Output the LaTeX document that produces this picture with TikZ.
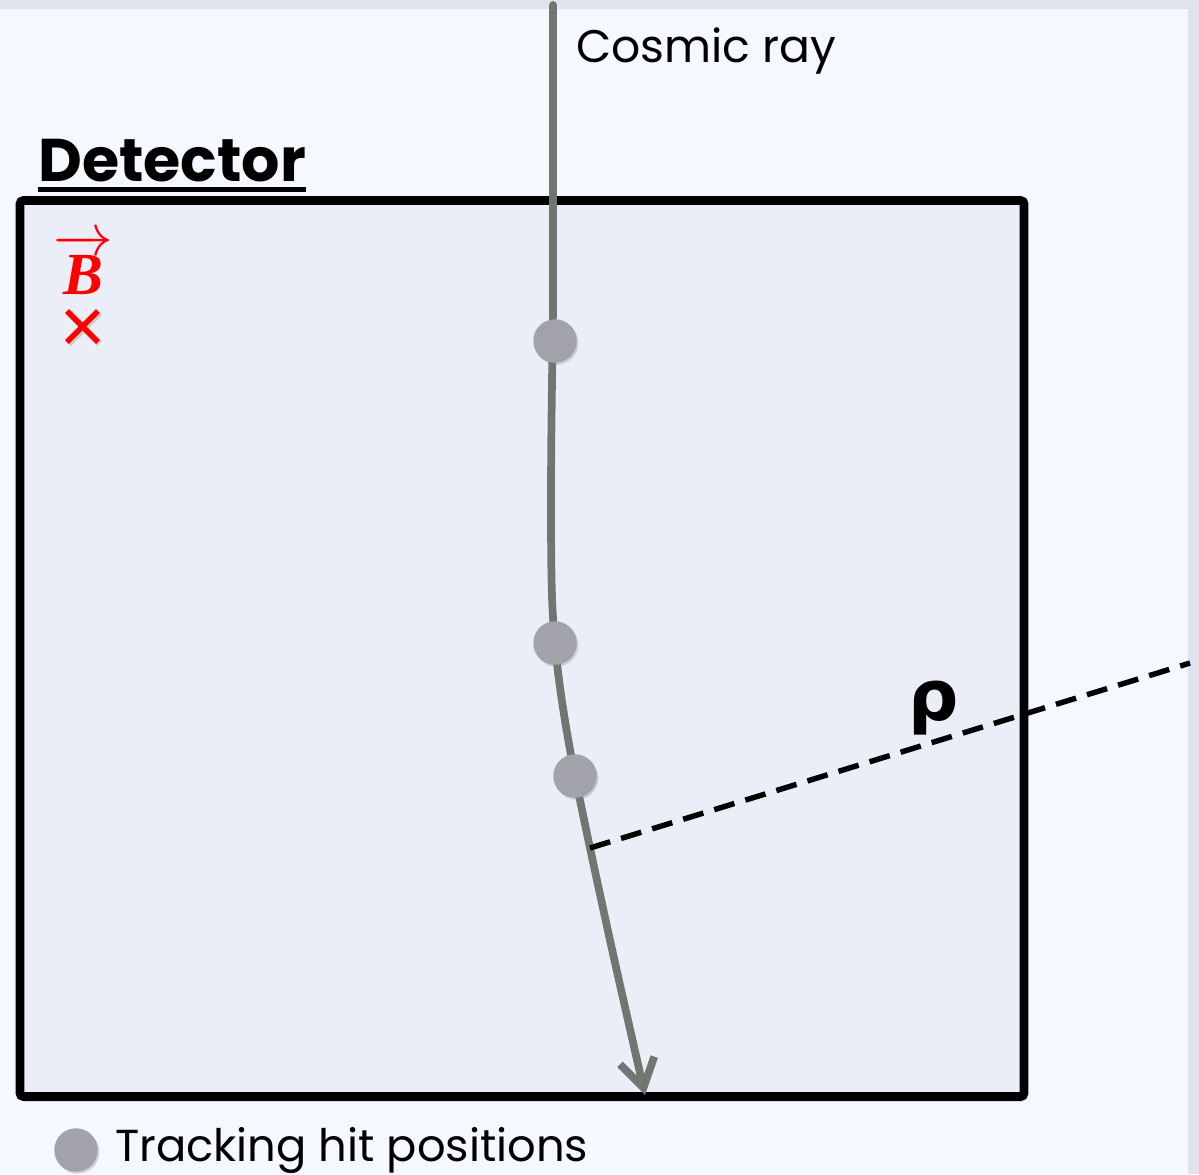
\RequirePackage{fix-cm}
\documentclass[tikz,border=0pt]{standalone}
\usepackage{fontspec}
\usepackage{amsmath,amssymb,bm}
\usepackage{xcolor}
\usetikzlibrary{positioning,arrows.meta,shadows}
\newfontfamily\rhofont{DejaVu Sans}
\newfontfamily\gothic{Poppins}
\newfontfamily\serifbi{Liberation Serif}
\definecolor{pagegray}{HTML}{E1E3EC}
\definecolor{slidebg}{HTML}{F5F8FE}
\definecolor{detfill}{HTML}{EBEEF7}
\definecolor{trackgray}{HTML}{6F7770}
\definecolor{hitgray}{HTML}{A2A2AA}

\begin{document}
\begin{tikzpicture}[x=0.02cm, y=-0.02cm,
    track/.style={draw=trackgray, line width=4.4pt, line cap=round},
    hit/.style={circle, fill=hitgray, inner sep=0pt, minimum size=0.87cm,
      drop shadow={shadow xshift=0.9pt, shadow yshift=-1.1pt, opacity=0.3}},
    lbl/.style={inner sep=0pt, font=\gothic\fontsize{26}{28}\selectfont}]
    % slide background
    \fill[pagegray] (0,0) rectangle (1199,1174);
    \fill[slidebg] (0,9) rectangle (1188,1174);
    \useasboundingbox (0,0) rectangle (1199,1174);
    % detector volume
    \draw[line width=5pt, rounded corners=2pt, fill=detfill,
      drop shadow={shadow xshift=1pt, shadow yshift=-3pt, opacity=0.25}] (20,200.5) rectangle (1024,1096.5);
    \node (dettitle) [anchor=base west, inner sep=0pt, font=\gothic\bfseries\fontsize{34.3}{38}\selectfont] at (38,181) {Detector};
    \draw[line width=2.8pt] ([yshift=-5pt]dettitle.base west) -- ([yshift=-5pt]dettitle.base east);
    % field into the page
    \node (bvec) [inner sep=0pt, text=red, font=\fontsize{34}{36}\selectfont] at (83,264) {$\overrightarrow{\text{\serifbi\bfseries\itshape B}}$};
    \draw[black!20, line width=4pt, xshift=0.9pt, yshift=-0.9pt] (67,311) -- (98,342) (67,342) -- (98,311);
    \draw[red, line width=3.2pt] (67,311) -- (98,342) (67,342) -- (98,311);
    % track and hits
    \coordinate (h1) at (555,341);
    \coordinate (h2) at (555,643);
    \coordinate (h3) at (575,776);
    \coordinate (foot) at (590,848);
    \coordinate (rhoend) at (1190,663);
    \coordinate (top) at (553,5);
    \coordinate (tip) at (645,1095);
    \node (cr) [lbl, anchor=base west] at (576,62) {Cosmic ray};
    \draw[track, -{Straight Barb[length=16pt,width=20pt]}] (top) -- (553,300) .. controls (553,330) and (551,420) .. (551,500)
      .. controls (551,590) and (552,610) .. (h2) .. controls (559,690) and (568,740) .. (h3)
      .. controls (582,810) .. (foot) .. controls (612,950) .. (tip);
    \draw[line width=3.1pt, dash pattern=on 12pt off 6.5pt] (foot) -- (rhoend);
    \node (rho) [inner sep=0pt, font=\rhofont\bfseries\fontsize{40}{42}\selectfont] at (934,708) {ρ};
    \node (hit1) [hit] at (h1) {};
    \node (hit2) [hit] at (h2) {};
    \node (hit3) [hit] at (h3) {};
    % legend
    \node (leg) [hit] at (76,1150) {};
    \node (legtxt) [lbl, font=\gothic\fontsize{25.5}{27}\selectfont, right=0.34cm of leg] {Tracking hit positions};
\end{tikzpicture}
\end{document}
